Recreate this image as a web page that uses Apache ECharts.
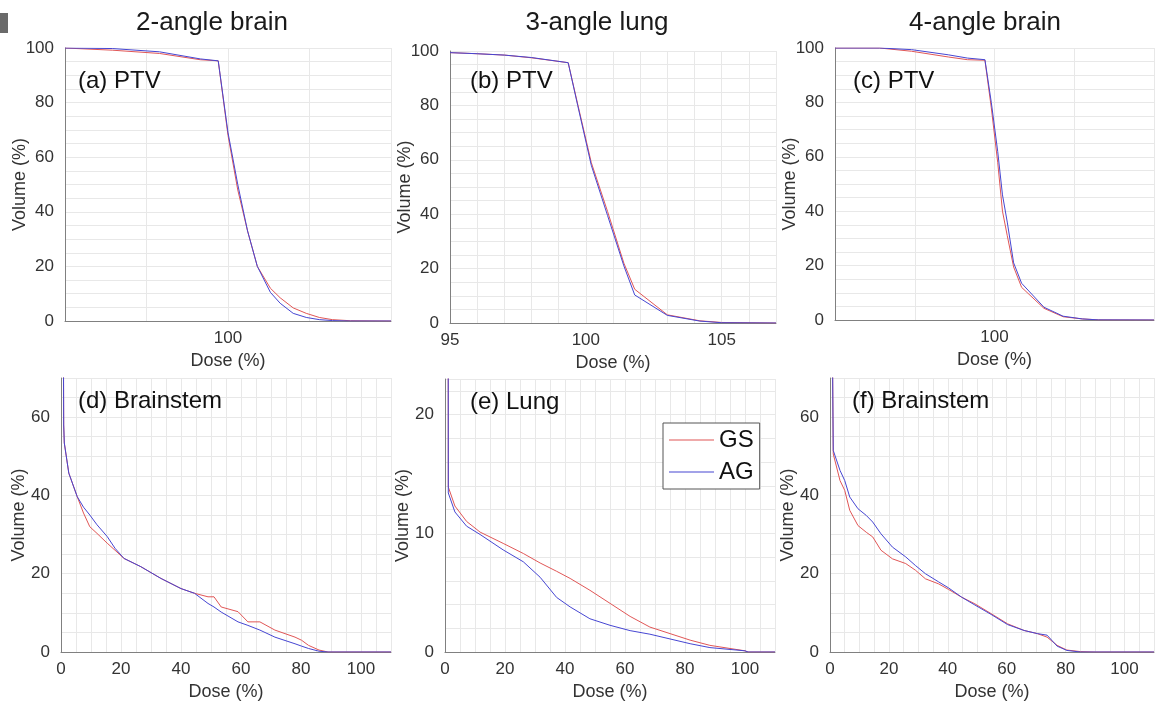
<!DOCTYPE html>
<html>
<head>
<meta charset="utf-8">
<script src="https://cdn.jsdelivr.net/npm/echarts@6/dist/echarts.min.js"></script>
<style>
html,body{margin:0;padding:0;background:#fff;}
#chart{width:1157px;height:707px;}
</style>
</head>
<body>
<div id="chart"></div>
<script>
// ---- Data ----
const panelTitles = ['2-angle brain', '3-angle lung', '4-angle brain'];
const panelLabels = ['(a) PTV', '(b) PTV', '(c) PTV', '(d) Brainstem', '(e) Lung', '(f) Brainstem'];
const seriesNames = ['GS', 'AG'];

// (a) 2-angle brain PTV
const doseA = [90, 92.9, 95.8, 98.3, 99.4, 100, 100.6, 101.2, 101.8, 102.6, 103.2, 104, 104.8, 105.6, 106.4, 107.5, 110];
const gsA   = [100, 99.2, 98.0, 95.7, 95.3, 68, 48, 33, 20, 12, 8.5, 4.8, 2.8, 1.3, 0.5, 0.1, 0];
const agA   = [100, 99.8, 98.6, 96.0, 95.3, 69, 50, 33, 20, 10.5, 6.5, 2.8, 1.3, 0.5, 0.15, 0, 0];

// (b) 3-angle lung PTV
const doseB = [95, 96, 97, 98, 99.35, 99.7, 100.2, 100.8, 101.4, 101.8, 103, 104.2, 105, 107];
const gsB   = [99.4, 99.0, 98.5, 97.5, 95.7, 80.5, 59, 41, 22, 12.4, 3, 0.8, 0.2, 0];
const agB   = [99.4, 99.0, 98.5, 97.6, 95.7, 80, 58, 39.5, 21, 10.3, 2.8, 0.7, 0.1, 0];

// (c) 4-angle brain PTV
const doseC = [90, 92.8, 94.8, 97.1, 98.3, 99.4, 99.8, 100.2, 100.5, 100.8, 101.2, 101.7, 103.1, 104.3, 105.5, 106.5, 110];
const gsC   = [100, 100, 98.8, 96.7, 95.7, 95.5, 78, 58, 40, 31, 19.5, 12, 4.3, 1.2, 0.4, 0.05, 0];
const agC   = [100, 100, 99.4, 97.5, 96.3, 95.7, 80, 62, 46, 36, 21, 13.5, 4.7, 1.4, 0.4, 0.05, 0];

// (d) 2-angle brain, Brainstem
const doseD = [0.7, 0.9, 1.1, 2.6, 5.4, 7.5, 9.6, 12, 15.4, 18, 21, 26.6, 33.3, 40, 44.5, 49, 51, 53.4, 59, 62.3, 66.3, 71.3, 78, 80.2, 82.5, 86, 89, 110];
const gsD   = [100, 58, 53.4, 45.7, 39.7, 35.5, 32, 30.3, 27.8, 26, 23.9, 21.8, 18.8, 16.2, 15, 14.1, 14.1, 11.5, 10.3, 7.7, 7.7, 5.6, 3.8, 3.0, 1.7, 0.5, 0, 0];
const agD   = [100, 58, 53.4, 45.7, 39.7, 37, 35, 32.5, 29.5, 26.5, 23.9, 21.8, 18.8, 16.2, 15, 12.4, 11.5, 10.2, 7.7, 6.8, 5.6, 3.8, 2.1, 1.5, 0.9, 0.2, 0, 0];

// (e) 3-angle lung, Lung
const doseE = [0.9, 1.1, 3.3, 7.2, 11.7, 19.4, 26.1, 31.7, 37.2, 41.7, 48.3, 55, 61.7, 68.3, 75, 81.7, 88.3, 100, 101, 110];
const gsE   = [100, 13.9, 12.3, 11.0, 10.1, 9.15, 8.3, 7.5, 6.8, 6.2, 5.2, 4.1, 3.0, 2.1, 1.55, 1.0, 0.56, 0.1, 0, 0];
const agE   = [100, 13.4, 11.8, 10.6, 9.9, 8.6, 7.6, 6.3, 4.6, 3.8, 2.8, 2.25, 1.8, 1.5, 1.1, 0.7, 0.37, 0.1, 0, 0];

// (f) 4-angle brain, Brainstem
const doseF = [0.6, 1.1, 3.4, 5, 6.7, 9.5, 12.3, 14.5, 17.3, 21.2, 25.7, 29, 32.4, 36.9, 40.2, 44.7, 49.2, 54.7, 60.3, 65.9, 70.4, 73.7, 77.1, 80.4, 85, 90, 110];
const gsF   = [100, 50.6, 43.8, 41.3, 36.2, 32.3, 30.6, 29.4, 26, 23.8, 22.6, 20.9, 18.7, 17.4, 16.0, 14.0, 12.3, 9.8, 7.2, 5.5, 4.7, 3.8, 1.7, 0.5, 0.1, 0, 0];
const agF   = [100, 51.5, 46.4, 43.8, 39.6, 36.6, 34.9, 33.2, 30.2, 26.8, 24.3, 22.1, 20.0, 17.9, 16.4, 14.0, 12.0, 9.6, 7.0, 5.5, 4.7, 4.3, 1.5, 0.4, 0, 0, 0];

// tick labels
const xTickA = [100], xTickB = [95, 100, 105], xTickC = [100];
const xTickBottom = [0, 20, 40, 60, 80, 100];
const yTickTop = [0, 20, 40, 60, 80, 100];
const yTickBrain = [0, 20, 40, 60];
const yTickLung = [0, 10, 20];

// ---- Layout ----
const FONT = '"Liberation Sans", Arial, Helvetica, sans-serif';
const RED = '#e05656', BLUE = '#4646d2';
const panels = [
  {g:{left:65, top:48, width:326, height:273}, dose:doseA, gs:gsA, ag:agA, xr:[90,110,5], yr:[0,100,5], xt:xTickA, yt:yTickTop, yg:36},
  {g:{left:450, top:51, width:326, height:272}, dose:doseB, gs:gsB, ag:agB, xr:[95,107,1], yr:[0,100,5], xt:xTickB, yt:yTickTop, yg:36},
  {g:{left:835, top:48, width:324, height:272}, dose:doseC, gs:gsC, ag:agC, xr:[90,110,5], yr:[0,100,5], xt:xTickC, yt:yTickTop, yg:36},
  {g:{left:61, top:378, width:330, height:274}, dose:doseD, gs:gsD, ag:agD, xr:[0,110,5], yr:[0,70,5], xt:xTickBottom, yt:yTickBrain, yg:33},
  {g:{left:445, top:379, width:330, height:273}, dose:doseE, gs:gsE, ag:agE, xr:[0,110,5], yr:[0,23,2], xt:xTickBottom, yt:yTickLung, yg:33},
  {g:{left:830, top:378, width:328, height:274}, dose:doseF, gs:gsF, ag:agF, xr:[0,110,5], yr:[0,70,5], xt:xTickBottom, yt:yTickBrain, yg:33}
];

function pairs(x, y) { return x.map((v, i) => [v, y[i]]); }

const grid = [], xAxis = [], yAxis = [], series = [];
panels.forEach((p, i) => {
  grid.push(Object.assign({containLabel:false}, p.g));
  const split = {show:true, lineStyle:{color:'#e8e8e8', width:1}};
  const axLine = {show:true, onZero:false, lineStyle:{color:'#808080', width:1}};
  xAxis.push({
    type:'value', gridIndex:i, min:p.xr[0], max:p.xr[1], interval:p.xr[2],
    name:'Dose (%)', nameLocation:'middle', nameGap:31, nameMoveOverlap:false,
    nameTextStyle:{fontFamily:FONT, fontSize:18, color:'#333'},
    axisLine:axLine, axisTick:{show:false}, splitLine:split,
    axisLabel:{fontFamily:FONT, fontSize:17, color:'#333', margin:9,
      formatter:(v) => p.xt.indexOf(v) >= 0 ? String(v) : ''}
  });
  yAxis.push({
    type:'value', gridIndex:i, min:p.yr[0], max:p.yr[1], interval:p.yr[2],
    name:'Volume (%)', nameLocation:'middle', nameGap:p.yg, nameMoveOverlap:false,
    nameTextStyle:{fontFamily:FONT, fontSize:18, color:'#333'},
    axisLine:axLine, axisTick:{show:false}, splitLine:split,
    axisLabel:{fontFamily:FONT, fontSize:17, color:'#333', margin:11,
      formatter:(v) => p.yt.indexOf(v) >= 0 ? String(v) : ''}
  });
  series.push({
    name:seriesNames[0], type:'line', xAxisIndex:i, yAxisIndex:i, data:pairs(p.dose, p.gs),
    symbol:'none', showSymbol:false, lineStyle:{color:RED, width:1}, itemStyle:{color:RED}, clip:true, animation:false
  });
  series.push({
    name:seriesNames[1], type:'line', xAxisIndex:i, yAxisIndex:i, data:pairs(p.dose, p.ag),
    symbol:'none', showSymbol:false, lineStyle:{color:BLUE, width:1}, itemStyle:{color:BLUE}, clip:true, animation:false
  });
});

const titleX = [212, 597, 985];
const labelPos = [[78,81],[470,81],[853,81],[78,401],[470,402],[852,401]];
const graphic = [
  {type:'rect', shape:{x:0, y:13, width:8, height:20}, style:{fill:'#6a6a6a'}}
];
panelTitles.forEach((t, i) => graphic.push({type:'text', x:titleX[i], y:23,
  style:{text:t, font:'26px ' + FONT, fill:'#1a1a1a', align:'center', verticalAlign:'middle'}}));
panelLabels.forEach((t, i) => graphic.push({type:'text', x:labelPos[i][0], y:labelPos[i][1], z:10,
  style:{text:t, font:'24px ' + FONT, fill:'#111', align:'left', verticalAlign:'middle'}}));

const chart = echarts.init(document.getElementById('chart'), null, {renderer:'canvas'});
chart.setOption({
  animation:false,
  backgroundColor:'#fff',
  grid, xAxis, yAxis, series, graphic,
  legend:{
    data:seriesNames, orient:'vertical', left:663, top:423,
    backgroundColor:'#fff', borderColor:'#555', borderWidth:1,
    padding:[5,6,5,6], itemGap:8, itemWidth:45, itemHeight:1.2, icon:'rect',
    textStyle:{fontFamily:FONT, fontSize:24, color:'#111', padding:[0,0,0,0]}
  }
});
</script>
</body>
</html>
